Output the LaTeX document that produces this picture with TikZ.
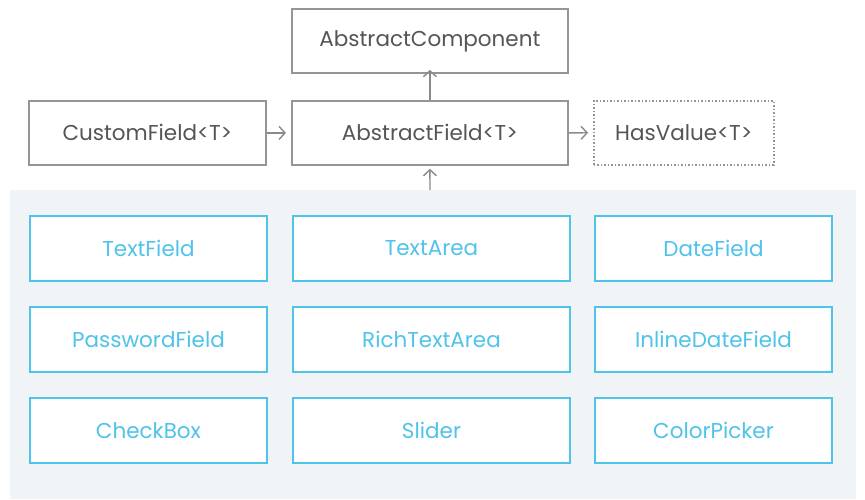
\documentclass[tikz,border=0pt]{standalone}
\usepackage{fontspec}
\setmainfont{Poppins}
\usetikzlibrary{arrows.meta}
\definecolor{panel}{HTML}{F1F4F6}
\definecolor{bluec}{HTML}{4FC3EA}
\definecolor{grayc}{HTML}{959595}
\definecolor{arrc}{HTML}{8A8A8A}
\definecolor{textg}{HTML}{555555}
\begin{document}
\begin{tikzpicture}[x=1pt,y=-1pt,
  lbl/.style={font=\fontsize{21.5}{24}\selectfont},
  graybox/.style={draw=grayc,line width=1.8pt,fill=white,text=textg,lbl,inner sep=0pt,anchor=north west,minimum height=64pt},
  dotbox/.style={draw=grayc,line width=1.5pt,dotted,fill=white,text=textg,lbl,inner sep=0pt,anchor=north west,minimum height=64pt},
  bluebox/.style={draw=bluec,line width=2pt,fill=white,text=bluec,lbl,inner sep=0pt,anchor=north west,minimum height=65pt},
  conn/.style={draw=arrc,line width=1.4pt,-{Straight Barb[length=6pt,width=13pt]}}]
\useasboundingbox (0,0) rectangle (865,499);
\fill[white] (0,0) rectangle (865,499);
\fill[panel] (10,190) rectangle (856,499);
% top boxes
\node[graybox,minimum width=276pt] (ac) at (291,8) {AbstractComponent};
\node[graybox,minimum width=276pt] (af) at (291,100) {AbstractField<T>};
\node[graybox,minimum width=237pt] (cf) at (28,100) {CustomField<T>};
\node[dotbox,minimum width=180pt] (hv) at (593,100) {HasValue<T>};
\coordinate (pt) at (430,190);
\draw[conn] (af.north) -- ([yshift=4pt]ac.south);
\draw[conn] (cf.east) -- ([xshift=-5pt]af.west);
\draw[conn] (af.east) -- ([xshift=-5pt]hv.west);
\draw[conn] (pt) -- ([yshift=-3pt]af.south);
% grid
\node[bluebox,minimum width=237pt] (b11) at (29,215) {TextField};
\node[bluebox,minimum width=277pt] (b12) at (292,215) {TextArea};
\node[bluebox,minimum width=237pt] (b13) at (594,215) {DateField};
\node[bluebox,minimum width=237pt] (b21) at (29,306) {PasswordField};
\node[bluebox,minimum width=277pt] (b22) at (292,306) {RichTextArea};
\node[bluebox,minimum width=237pt] (b23) at (594,306) {InlineDateField};
\node[bluebox,minimum width=237pt] (b31) at (29,397) {CheckBox};
\node[bluebox,minimum width=277pt] (b32) at (292,397) {Slider};
\node[bluebox,minimum width=237pt] (b33) at (594,397) {ColorPicker};
\end{tikzpicture}
\end{document}
